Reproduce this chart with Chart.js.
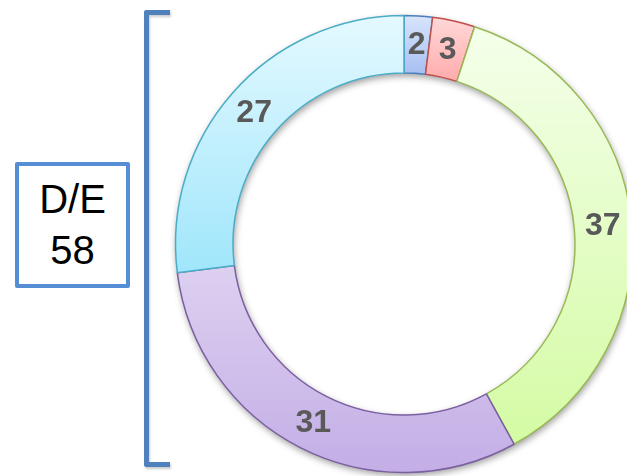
<!DOCTYPE html>
<html lang="en">
<head>
    <meta charset="UTF-8">
    <title>D/E Ring</title>
    <script src="https://cdn.jsdelivr.net/npm/chart.js@4.4.0/dist/chart.umd.min.js"></script>
    <style>
        html, body {
            margin: 0;
            padding: 0;
            width: 627px;
            height: 476px;
            overflow: hidden;
            background: #fff;
            font-family: "Liberation Sans", Arial, sans-serif;
        }
        .ring {
            position: absolute;
            left: 164px;
            top: 4px;
            width: 480px;
            height: 480px;
        }
        .bracket {
            position: absolute;
            left: 144px;
            top: 10px;
            width: 21px;
            height: 447px;
            border: 5px solid #4f81bd;
            border-right: none;
            border-radius: 3px 0 0 3px;
            filter: drop-shadow(1px 2px 1px rgba(0,0,0,0.2));
        }
        .box {
            position: absolute;
            left: 15px;
            top: 162px;
            width: 107px;
            height: 110px;
            padding-top: 8px;
            border: 4px solid #558ed5;
            border-radius: 2px;
            background: #fff;
            text-align: center;
            font-size: 40px;
            line-height: 51px;
            color: #000;
        }
    </style>
</head>
<body>
    <div class="bracket"></div>
    <div class="box">D/E<br>58</div>
    <div class="ring"><canvas id="ringChart" width="480" height="480"></canvas></div>

    <script>
        // segments, clockwise from 12 o'clock
        const segments = ['Segment 1', 'Segment 2', 'Segment 3', 'Segment 4', 'Segment 5'];
        const values = [2, 3, 37, 31, 27];
        const topColors = ['#d8e4fb', '#ffd8d8', '#f4ffea', '#ddd0f0', '#e4f9ff'];
        const bottomColors = ['#a7c0f2', '#ffabab', '#d4fba4', '#c3aee6', '#a0e6fb'];
        const lineColors = ['#4a7ebb', '#c0504d', '#98b954', '#7b5fa0', '#4bacc6'];

        const OUTER = 228.5;
        const INNER = 171;

        // vertical gradient spanning the y extent of each segment
        function segmentFill(ctx) {
            const chart = ctx.chart;
            const area = chart.chartArea;
            const i = ctx.dataIndex;
            if (!area) return bottomColors[i];
            const total = values.reduce((a, b) => a + b, 0);
            let before = 0;
            for (let k = 0; k < i; k++) before += values[k];
            const a0 = before / total * Math.PI * 2 - Math.PI / 2;
            const a1 = (before + values[i]) / total * Math.PI * 2 - Math.PI / 2;
            const cy = (area.top + area.bottom) / 2;
            let minY = Infinity, maxY = -Infinity;
            for (let s = 0; s <= 40; s++) {
                const a = a0 + (a1 - a0) * s / 40;
                [INNER, OUTER].forEach(r => {
                    const y = cy + r * Math.sin(a);
                    minY = Math.min(minY, y);
                    maxY = Math.max(maxY, y);
                });
            }
            const g = chart.ctx.createLinearGradient(0, minY, 0, maxY);
            g.addColorStop(0, topColors[i]);
            g.addColorStop(1, bottomColors[i]);
            return g;
        }

        const ringShadow = {
            id: 'ringShadow',
            beforeDatasetsDraw(chart) {
                const arc = chart.getDatasetMeta(0).data[0];
                if (!arc) return;
                const c = chart.ctx;
                c.save();
                c.shadowColor = 'rgba(0,0,0,0.4)';
                c.shadowBlur = 7;
                c.shadowOffsetX = 1;
                c.shadowOffsetY = 3;
                c.fillStyle = '#fff';
                c.beginPath();
                c.arc(arc.x, arc.y, arc.outerRadius, 0, Math.PI * 2);
                c.arc(arc.x, arc.y, arc.innerRadius, 0, Math.PI * 2, true);
                c.fill('evenodd');
                c.restore();
            }
        };

        const sliceLabels = {
            id: 'sliceLabels',
            afterDatasetsDraw(chart) {
                const c = chart.ctx;
                c.save();
                c.font = 'bold 32px "Liberation Sans", Arial, sans-serif';
                c.fillStyle = '#595959';
                c.textAlign = 'center';
                c.textBaseline = 'middle';
                chart.getDatasetMeta(0).data.forEach((arc, i) => {
                    const p = arc.getCenterPoint();
                    c.fillText(String(values[i]), p.x, p.y + 1);
                });
                c.restore();
            }
        };

        new Chart(document.getElementById('ringChart'), {
            type: 'doughnut',
            data: {
                labels: segments,
                datasets: [{
                    data: values,
                    backgroundColor: segmentFill,
                    borderColor: lineColors,
                    borderWidth: 1.5,
                    borderAlign: 'center'
                }]
            },
            options: {
                responsive: false,
                animation: false,
                radius: OUTER,
                cutout: (INNER / OUTER * 100).toFixed(2) + '%',
                rotation: 0,
                layout: { padding: 0 },
                plugins: {
                    legend: { display: false },
                    tooltip: { enabled: false }
                }
            },
            plugins: [ringShadow, sliceLabels]
        });
    </script>
</body>
</html>
